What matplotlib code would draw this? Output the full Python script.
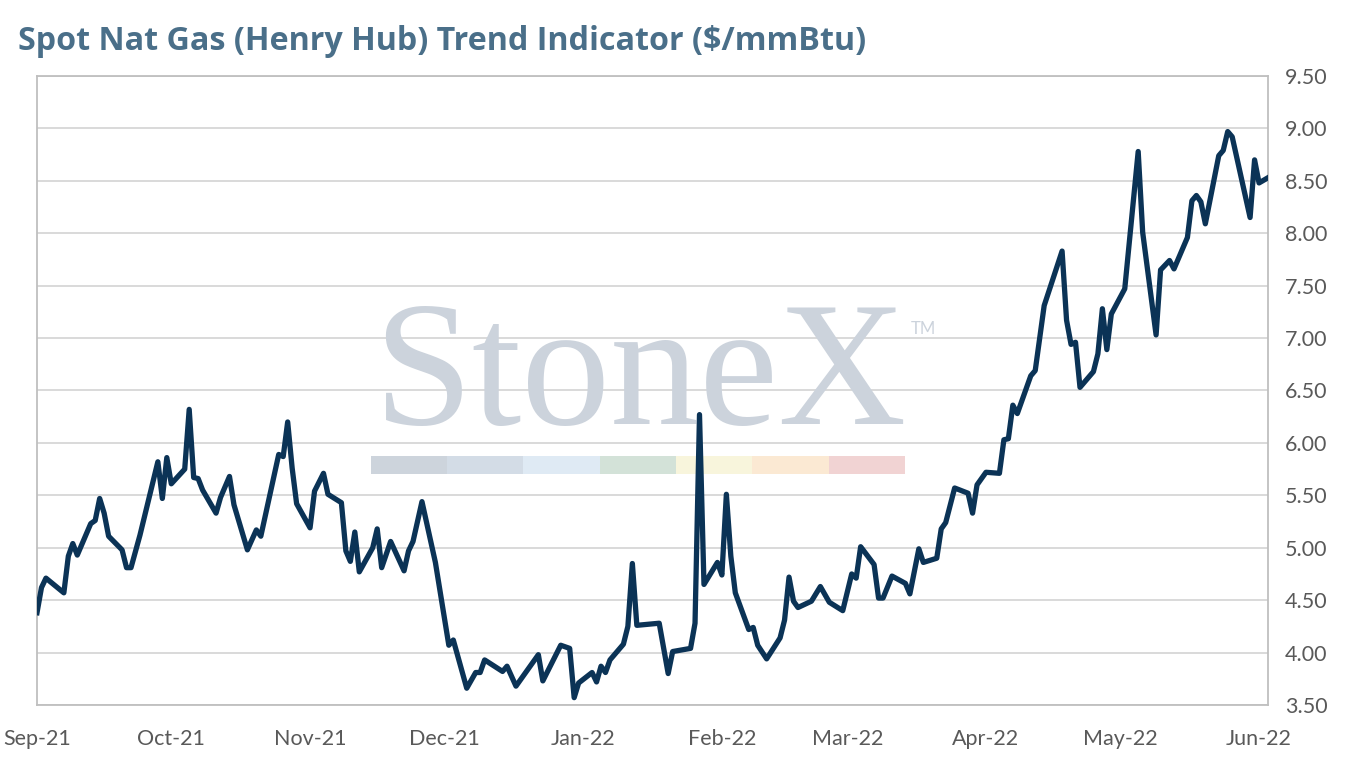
import matplotlib
matplotlib.use("Agg")
import matplotlib.pyplot as plt
import matplotlib.dates as mdates
from matplotlib.patches import Rectangle
from matplotlib.ticker import FormatStrFormatter
import pandas as pd

# Henry Hub spot
dates = [
    "2021-09-01", "2021-09-02", "2021-09-03", "2021-09-07", "2021-09-08", "2021-09-09",
    "2021-09-10", "2021-09-13", "2021-09-14", "2021-09-15", "2021-09-16", "2021-09-17",
    "2021-09-20", "2021-09-21", "2021-09-22", "2021-09-24", "2021-09-28", "2021-09-29",
    "2021-09-30", "2021-10-01", "2021-10-04", "2021-10-05", "2021-10-06", "2021-10-07",
    "2021-10-08", "2021-10-11", "2021-10-12", "2021-10-14", "2021-10-15", "2021-10-18",
    "2021-10-20", "2021-10-21", "2021-10-25", "2021-10-26", "2021-10-27", "2021-10-28",
    "2021-10-29", "2021-11-01", "2021-11-02", "2021-11-04", "2021-11-05", "2021-11-08",
    "2021-11-09", "2021-11-10", "2021-11-11", "2021-11-12", "2021-11-15", "2021-11-16",
    "2021-11-17", "2021-11-19", "2021-11-22", "2021-11-23", "2021-11-24", "2021-11-26",
    "2021-11-29", "2021-12-02", "2021-12-03", "2021-12-06", "2021-12-08", "2021-12-09",
    "2021-12-10", "2021-12-14", "2021-12-15", "2021-12-17", "2021-12-22", "2021-12-23",
    "2021-12-27", "2021-12-29", "2021-12-30", "2021-12-31", "2022-01-03", "2022-01-04",
    "2022-01-05", "2022-01-06", "2022-01-07", "2022-01-10", "2022-01-11", "2022-01-12",
    "2022-01-13", "2022-01-18", "2022-01-20", "2022-01-21", "2022-01-25", "2022-01-26",
    "2022-01-27", "2022-01-28", "2022-01-31", "2022-02-01", "2022-02-02", "2022-02-03",
    "2022-02-04", "2022-02-07", "2022-02-08", "2022-02-09", "2022-02-11", "2022-02-14",
    "2022-02-15", "2022-02-16", "2022-02-17", "2022-02-18", "2022-02-21", "2022-02-23",
    "2022-02-25", "2022-02-28", "2022-03-02", "2022-03-03", "2022-03-04", "2022-03-07",
    "2022-03-08", "2022-03-09", "2022-03-11", "2022-03-14", "2022-03-15", "2022-03-17",
    "2022-03-18", "2022-03-21", "2022-03-22", "2022-03-23", "2022-03-25", "2022-03-28",
    "2022-03-29", "2022-03-30", "2022-04-01", "2022-04-04", "2022-04-05", "2022-04-06",
    "2022-04-07", "2022-04-08", "2022-04-11", "2022-04-12", "2022-04-14", "2022-04-18",
    "2022-04-19", "2022-04-20", "2022-04-21", "2022-04-22", "2022-04-25", "2022-04-26",
    "2022-04-27", "2022-04-28", "2022-04-29", "2022-05-02", "2022-05-05", "2022-05-06",
    "2022-05-09", "2022-05-10", "2022-05-12", "2022-05-13", "2022-05-16", "2022-05-17",
    "2022-05-18", "2022-05-19", "2022-05-20", "2022-05-23", "2022-05-24", "2022-05-25",
    "2022-05-26", "2022-05-30", "2022-05-31", "2022-06-01", "2022-06-03",
]
prices = [
    4.38, 4.62, 4.71, 4.57, 4.92, 5.04,
    4.93, 5.23, 5.26, 5.47, 5.33, 5.11,
    4.98, 4.81, 4.81, 5.12, 5.82, 5.47,
    5.86, 5.61, 5.75, 6.32, 5.67, 5.66,
    5.55, 5.33, 5.48, 5.68, 5.41, 4.98,
    5.17, 5.11, 5.89, 5.87, 6.20, 5.76,
    5.42, 5.19, 5.54, 5.71, 5.51, 5.43,
    4.97, 4.87, 5.15, 4.77, 5.00, 5.18,
    4.81, 5.06, 4.78, 4.97, 5.06, 5.44,
    4.86, 4.07, 4.12, 3.66, 3.81, 3.81,
    3.93, 3.82, 3.87, 3.68, 3.98, 3.73,
    4.07, 4.04, 3.57, 3.71, 3.81, 3.72,
    3.87, 3.81, 3.93, 4.08, 4.25, 4.85,
    4.26, 4.28, 3.80, 4.01, 4.04, 4.28,
    6.27, 4.65, 4.86, 4.74, 5.51, 4.92,
    4.57, 4.22, 4.24, 4.07, 3.94, 4.14,
    4.31, 4.72, 4.49, 4.43, 4.49, 4.63,
    4.48, 4.40, 4.75, 4.71, 5.01, 4.84,
    4.52, 4.52, 4.73, 4.66, 4.56, 4.99,
    4.86, 4.90, 5.18, 5.24, 5.57, 5.52,
    5.33, 5.60, 5.72, 5.71, 6.03, 6.04,
    6.36, 6.28, 6.64, 6.69, 7.31, 7.83,
    7.17, 6.94, 6.96, 6.53, 6.68, 6.85,
    7.28, 6.89, 7.23, 7.47, 8.78, 8.01,
    7.03, 7.65, 7.74, 7.66, 7.96, 8.31,
    8.36, 8.30, 8.09, 8.74, 8.79, 8.97,
    8.92, 8.15, 8.70, 8.48, 8.53,
]
yticks = [3.5, 4.0, 4.5, 5.0, 5.5, 6.0, 6.5, 7.0, 7.5, 8.0, 8.5, 9.0, 9.5]
title = "Spot Nat Gas (Henry Hub) Trend Indicator ($/mmBtu)"

plt.rcParams["font.family"] = ["Lato", "DejaVu Sans"]

x = pd.to_datetime(dates)

fig = plt.figure(figsize=(13.48, 7.66), dpi=100)
ax = fig.add_axes([37 / 1348, 1 - 705 / 766, (1268 - 37) / 1348, (705 - 76) / 766])

ax.plot(x, prices, color="#0b3356", lw=3.8, solid_joinstyle="round", zorder=3)

ax.set_xlim(pd.Timestamp("2021-09-01"), pd.Timestamp("2022-06-03"))
ax.set_ylim(3.5, 9.5)
ax.set_yticks(yticks)
ax.yaxis.set_major_formatter(FormatStrFormatter("%.2f"))
ax.yaxis.tick_right()
ax.xaxis.set_major_locator(mdates.MonthLocator())
ax.xaxis.set_major_formatter(mdates.DateFormatter("%b-%y"))
ax.tick_params(axis="both", length=0, labelsize=15.5, labelcolor="#595959")
ax.tick_params(axis="x", pad=17)
ax.tick_params(axis="y", pad=12)

ax.grid(axis="y", color="#d9d9d9", lw=1.4)
ax.set_axisbelow(True)
for s in ax.spines.values():
    s.set_color("#bfbfbf")
    s.set_linewidth(1.3)

# watermark
ax.text(640 / 1348, 1 - 424 / 766, "StoneX", transform=fig.transFigure,
        family=["Liberation Serif", "DejaVu Serif"], fontsize=128,
        color="#ccd3dc", ha="center", va="baseline", zorder=1)
ax.text(911 / 1348, 1 - 334 / 766, "TM", transform=fig.transFigure,
        fontsize=12, color="#ccd3dc", ha="left", va="baseline", zorder=1)
bar_cols = ["#cdd4dc", "#d3dce6", "#dfeaf4", "#d3e2d8", "#f8f5dc", "#fbe9d3", "#f1d3d3"]
bar_x = [371, 447, 523, 600, 676, 752, 829, 905]
for i, c in enumerate(bar_cols):
    ax.add_patch(Rectangle((bar_x[i] / 1348, 1 - 474 / 766), (bar_x[i + 1] - bar_x[i]) / 1348,
                           18 / 766, transform=fig.transFigure, color=c, lw=0, zorder=1))

fig.text(18 / 1348, 1 - 50 / 766, title, fontsize=23.2, fontweight="bold",
         family=["Open Sans", "DejaVu Sans"], color="#4a6f89", ha="left", va="baseline")

fig.savefig("out.png", dpi=100, facecolor="white")
